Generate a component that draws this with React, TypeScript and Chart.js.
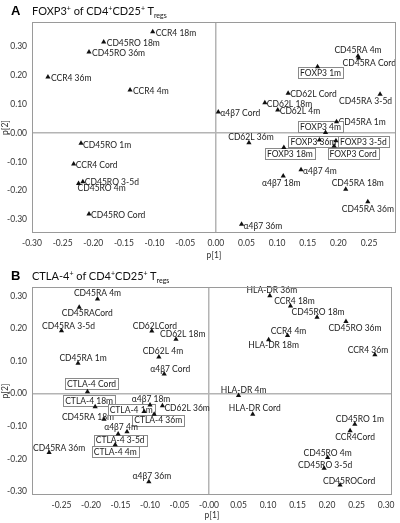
import React, { useEffect, useRef } from "react";
import { Chart, registerables } from "chart.js";

Chart.register(...registerables);

// ---------- Panel A data: FOXP3+ of CD4+CD25+ Tregs ----------
const labelsA = [
  "CCR4 18m", "CD45RO 18m", "CD45RO 36m", "CCR4 36m", "CCR4 4m",
  "CD45RA 4m", "CD45RA Cord", "FOXP3 1m", "CD62L Cord", "CD45RA 3-5d",
  "CD62L 18m", "CD62L 4m", "α4β7 Cord", "CD45RA 1m", "FOXP3 4m",
  "CD62L 36m", "FOXP3 36m", "FOXP3 3-5d", "FOXP3 Cord", "FOXP3 18m",
  "α4β7 4m", "α4β7 18m", "CD45RA 18m", "CD45RA 36m", "α4β7 36m",
  "CD45RO 1m", "CCR4 Cord", "CD45RO 3-5d", "CD45RO 4m", "CD45RO Cord",
];
const p1A = [
  -0.103, -0.183, -0.207, -0.274, -0.140,
  0.232, 0.233, 0.166, 0.118, 0.268,
  0.080, 0.101, 0.004, 0.197, 0.179,
  0.054, 0.169, 0.196, 0.193, 0.111,
  0.139, 0.110, 0.212, 0.248, 0.042,
  -0.220, -0.232, -0.217, -0.224, -0.207,
];
const p2A = [
  0.351, 0.316, 0.281, 0.194, 0.149,
  0.267, 0.260, 0.230, 0.138, 0.134,
  0.105, 0.080, 0.073, 0.039, 0.002,
  -0.034, -0.024, -0.027, -0.045, -0.050,
  -0.128, -0.149, -0.195, -0.239, -0.317,
  -0.036, -0.108, -0.169, -0.175, -0.281,
];
const xTicksA = [-0.3, -0.25, -0.2, -0.15, -0.1, -0.05, 0, 0.05, 0.1, 0.15, 0.2, 0.25];
const yTicksA = [0.3, 0.2, 0.1, 0, -0.1, -0.2, -0.3];

// ---------- Panel B data: CTLA-4+ of CD4+CD25+ Tregs ----------
const labelsB = [
  "CD45RA 4m", "CD45RACord", "CD45RA 3-5d", "CD62LCord", "CD62L 18m",
  "CD62L 4m", "CD45RA 1m", "α4β7 Cord", "CTLA-4 Cord", "CTLA-4 18m",
  "CD45RA 18m", "α4β7 18m", "CD62L 36m", "CTLA-4 1m", "CTLA-4 36m",
  "α4β7 4m", "CTLA-4 3-5d", "CTLA-4 4m", "CD45RA 36m", "α4β7 36m",
  "HLA-DR 36m", "CCR4 18m", "CD45RO 18m", "CD45RO 36m", "CCR4 4m",
  "HLA-DR 18m", "CCR4 36m", "HLA-DR 4m", "HLA-DR Cord", "CD45RO 1m",
  "CCR4Cord", "CD45RO 4m", "CD45RO 3-5d", "CD45ROCord",
];
const p1B = [
  -0.189, -0.220, -0.250, -0.097, -0.056,
  -0.085, -0.222, -0.076, -0.206, -0.193,
  -0.178, -0.100, -0.079, -0.110, -0.093,
  -0.139, -0.154, -0.159, -0.271, -0.102,
  0.103, 0.138, 0.183, 0.232, 0.133,
  0.101, 0.281, 0.050, 0.074, 0.247,
  0.239, 0.201, 0.195, 0.222,
];
const p2B = [
  0.290, 0.265, 0.193, 0.192, 0.167,
  0.112, 0.093, 0.060, 0.006, -0.040,
  -0.079, -0.035, -0.037, -0.055, -0.063,
  -0.117, -0.124, -0.157, -0.181, -0.270,
  0.300, 0.269, 0.234, 0.221, 0.178,
  0.165, 0.119, -0.006, -0.063, -0.094,
  -0.114, -0.196, -0.229, -0.280,
];
const xTicksB = [-0.25, -0.2, -0.15, -0.1, -0.05, 0, 0.05, 0.1, 0.15, 0.2, 0.25, 0.3];
const yTicksB = [0.3, 0.2, 0.1, 0, -0.1, -0.2, -0.3];

// ---------- label placement (layout only): [align, dx, dy] relative to marker ----------
type Place = [CanvasTextAlign, number, number];
const placeA: Place[] = [
  ["left", 3, 1], ["left", 3, 1], ["left", 3, 1], ["left", 3, 1], ["left", 3, 1],
  ["center", 0, -6], ["left", -16, 5], ["center", 3, 6], ["left", 2, 1], ["right", 12, 6],
  ["left", 2, 1], ["left", 2, 1], ["left", 2, 1], ["left", 2, 0], ["center", -5, -6],
  ["center", 2, -6], ["center", -6, 2], ["left", 4, 1], ["center", 19, 8], ["center", 6, 6],
  ["left", 2, 1], ["center", -2, 7], ["center", 12, -6], ["center", 0, 7], ["left", 2, 1],
  ["left", 2, 1], ["left", 2, 1], ["left", 2, 0], ["left", -1, 4], ["left", 2, 1],
];
const placeB: Place[] = [
  ["center", 0, -6], ["center", 8, 6], ["center", 7, -5], ["center", 3, -5], ["left", -16, -5],
  ["center", 4, -6], ["center", 5, -6], ["center", 6, -5], ["center", 4, -8], ["center", -6, -6],
  ["center", -16, -3], ["center", 1, -6], ["left", 2, 2], ["center", -13, -2], ["center", 4, 6],
  ["center", -6, -5], ["center", 2, 6], ["center", 0, 7], ["center", 10, -5], ["center", 3, -6],
  ["center", 2, -6], ["center", 4, -5], ["center", 1, -6], ["center", 9, 6], ["center", 1, -5],
  ["center", 5, 5], ["center", -7, -5], ["center", 5, -6], ["center", 2, -6], ["center", 5, -5],
  ["center", 5, 6], ["center", 0, -5], ["center", 1, -4], ["center", 9, -4],
];

const FONT = "Lato, 'Open Sans', sans-serif";

interface PanelProps {
  labels: string[];
  xs: number[];
  ys: number[];
  place: Place[];
  boxPrefix: string;
  xTicks: number[];
  yTicks: number[];
  xMin: number;
  xMax: number;
  yMin: number;
  yMax: number;
  xZeroText: string;
  height: number;
  xAxisH: number;
  rightPad: number;
  titlePadBottom: number;
}

function fmt(v: number, zeroText: string) {
  if (Math.abs(v) < 1e-9) return zeroText;
  return v.toFixed(2);
}

function Panel(props: PanelProps) {
  const ref = useRef<HTMLCanvasElement | null>(null);
  useEffect(() => {
    if (!ref.current) return;
    const p = props;
    const data = p.xs.map((x, i) => ({ x, y: p.ys[i] }));

    const labelPlugin = {
      id: "pointLabels",
      beforeDatasetsDraw(chart: any) {
        const ctx = chart.ctx as CanvasRenderingContext2D;
        const meta = chart.getDatasetMeta(0);
        ctx.save();
        ctx.font = `8.5px ${FONT}`;
        ctx.textBaseline = "middle";
        ctx.textAlign = "left";
        meta.data.forEach((el: any, i: number) => {
          const [a, dx, dy] = p.place[i];
          const text = p.labels[i];
          const w = ctx.measureText(text).width;
          const left = a === "left" ? el.x + dx : a === "center" ? el.x + dx - w / 2 : el.x + dx - w;
          const cy = el.y + dy;
          if (text.startsWith(p.boxPrefix)) {
            const bx = Math.round(left - 2) + 0.5;
            const by = Math.round(cy - 5.5) + 0.5;
            const bw = Math.round(w + 4);
            ctx.fillStyle = "#ffffff";
            ctx.fillRect(bx, by, bw, 11);
            ctx.strokeStyle = "#8a8a8a";
            ctx.lineWidth = 1;
            ctx.strokeRect(bx, by, bw, 11);
          }
          ctx.fillStyle = "#222";
          ctx.fillText(text, left, cy + 0.5);
        });
        ctx.restore();
      },
    };

    const framePlugin = {
      id: "frame",
      afterDraw(chart: any) {
        const { ctx, chartArea } = chart;
        ctx.save();
        ctx.strokeStyle = "#9a9a9a";
        ctx.lineWidth = 1;
        ctx.strokeRect(
          Math.round(chartArea.left) + 0.5,
          Math.round(chartArea.top) + 0.5,
          Math.round(chartArea.right - chartArea.left) - 1,
          Math.round(chartArea.bottom - chartArea.top) - 1
        );
        ctx.restore();
      },
    };

    const zeroGrid = (c: any) =>
      c.tick && Math.abs(c.tick.value) < 1e-9 ? "#b4b4b4" : "rgba(0,0,0,0)";

    const chart = new Chart(ref.current, {
      type: "scatter",
      data: {
        datasets: [
          {
            data,
            pointStyle: "triangle",
            pointRadius: 3,
            pointBackgroundColor: "#111",
            pointBorderColor: "#111",
            pointBorderWidth: 0,
          },
        ],
      },
      options: {
        animation: false,
        responsive: true,
        maintainAspectRatio: false,
        layout: { padding: { top: 22, right: p.rightPad, left: 0, bottom: 0 } },
        plugins: { legend: { display: false }, tooltip: { enabled: false } },
        scales: {
          x: {
            type: "linear",
            min: p.xMin,
            max: p.xMax,
            afterBuildTicks: (s: any) => {
              s.ticks = p.xTicks.map((v) => ({ value: v }));
            },
            afterFit: (s: any) => {
              s.height = p.xAxisH;
            },
            grid: { color: zeroGrid, lineWidth: 1.5, drawTicks: false },
            border: { display: false },
            ticks: {
              padding: 5,
              color: "#333",
              font: { family: FONT, size: 8.5 },
              maxRotation: 0,
              autoSkip: false,
              callback: (v: any) => fmt(Number(v), p.xZeroText),
            },
            title: {
              display: true,
              text: "p[1]",
              color: "#333",
              font: { family: FONT, size: 8.5 },
              padding: { top: 0, bottom: p.titlePadBottom },
            },
          },
          y: {
            type: "linear",
            min: p.yMin,
            max: p.yMax,
            afterBuildTicks: (s: any) => {
              s.ticks = p.yTicks.map((v) => ({ value: v }));
            },
            afterFit: (s: any) => {
              s.width = 32;
            },
            grid: { color: zeroGrid, lineWidth: 1.5, drawTicks: false },
            border: { display: false },
            ticks: {
              padding: 5,
              color: "#333",
              font: { family: FONT, size: 8.5 },
              autoSkip: false,
              callback: (v: any) => fmt(Number(v), "-0.00"),
            },
            title: {
              display: true,
              text: "p[2]",
              color: "#333",
              font: { family: FONT, size: 8.5 },
              padding: 0,
            },
          },
        },
      },
      plugins: [labelPlugin, framePlugin],
    } as any);
    return () => chart.destroy();
  }, []);
  return (
    <div style={{ position: "relative", width: 400, height: props.height }}>
      <canvas ref={ref} />
    </div>
  );
}

const supStyle: React.CSSProperties = { fontSize: 7, position: "relative", top: -4 };
const subStyle: React.CSSProperties = { fontSize: 7, position: "relative", top: 3 };

function Title({ letter, name, top }: { letter: string; name: string; top: number }) {
  return (
    <div style={{ position: "absolute", left: 0, top, width: 400, height: 22 }}>
      <div
        style={{
          position: "absolute",
          left: 11,
          top: 3,
          font: "bold 13px Arial, 'Liberation Sans', sans-serif",
          color: "#000",
        }}
      >
        {letter}
      </div>
      <div
        style={{
          position: "absolute",
          left: 32,
          top: 4,
          font: `11px ${FONT}`,
          color: "#111",
          whiteSpace: "nowrap",
          lineHeight: "13px",
        }}
      >
        {name}
        <span style={supStyle}>+</span> of CD4<span style={supStyle}>+</span>CD25
        <span style={supStyle}>+</span> T<span style={subStyle}>regs</span>
      </div>
    </div>
  );
}

export default function App() {
  return (
    <div
      style={{
        position: "absolute",
        left: 0,
        top: 0,
        width: 400,
        height: 523,
        background: "#fff",
        overflow: "hidden",
      }}
    >
      <div style={{ position: "absolute", left: 0, top: 0 }}>
        <Panel
          labels={labelsA}
          xs={p1A}
          ys={p2A}
          place={placeA}
          boxPrefix="FOXP3"
          xTicks={xTicksA}
          yTicks={yTicksA}
          xMin={-0.3}
          xMax={0.294}
          yMin={-0.347}
          yMax={0.385}
          xZeroText="0.00"
          height={265}
          xAxisH={32}
          rightPad={4}
          titlePadBottom={5}
        />
      </div>
      <div style={{ position: "absolute", left: 0, top: 265 }}>
        <Panel
          labels={labelsB}
          xs={p1B}
          ys={p2B}
          place={placeB}
          boxPrefix="CTLA-4"
          xTicks={xTicksB}
          yTicks={yTicksB}
          xMin={-0.3}
          xMax={0.31}
          yMin={-0.311}
          yMax={0.327}
          xZeroText="-0.00"
          height={258}
          xAxisH={28}
          rightPad={8}
          titlePadBottom={3}
        />
      </div>
      <Title letter="A" name="FOXP3" top={0} />
      <Title letter="B" name="CTLA-4" top={265} />
    </div>
  );
}
